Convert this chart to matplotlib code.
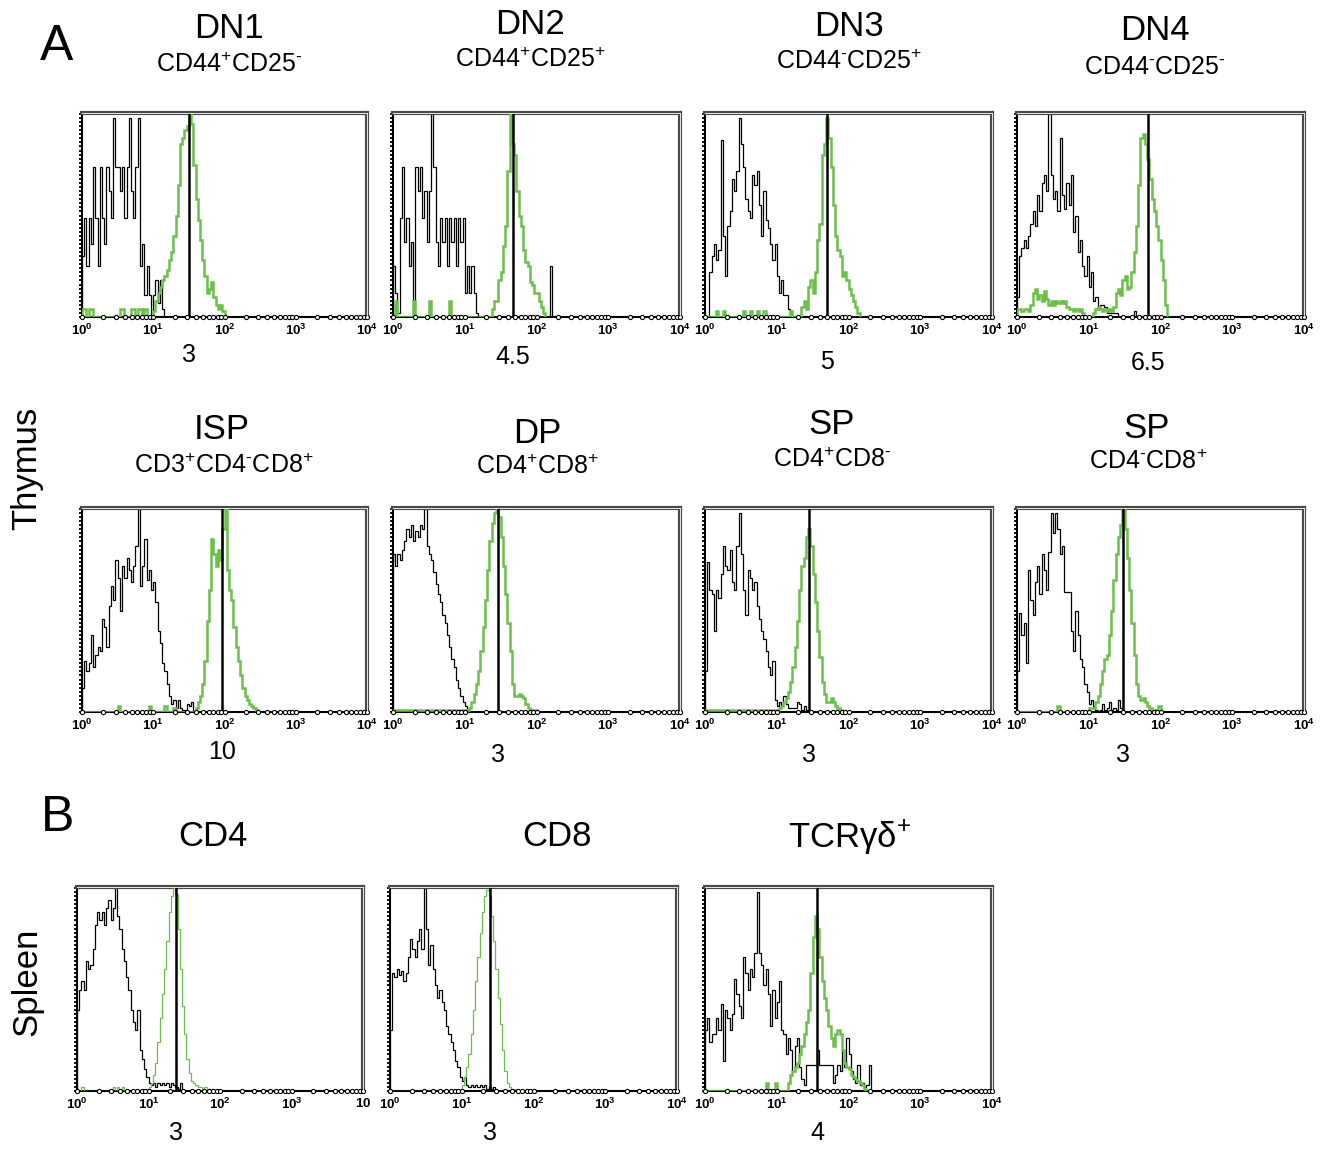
import numpy as np
import matplotlib
matplotlib.use("Agg")
import matplotlib.pyplot as plt
from matplotlib.ticker import NullLocator
from matplotlib.transforms import blended_transform_factory

plt.rcParams['font.family'] = ['Liberation Sans', 'DejaVu Sans']
plt.rcParams['mathtext.fontset'] = 'custom'
plt.rcParams['mathtext.rm'] = 'Liberation Sans'
plt.rcParams['mathtext.it'] = 'Liberation Sans:italic'
plt.rcParams['mathtext.bf'] = 'Liberation Sans:bold'

W, H = 1328, 1149
CH_PER_DEC = 32   # histogram channels per decade, channel 0 = 10^0

# ---- histogram counts (% of max), channel 0 upward ----
dn1_black = [30, 49, 25, 49, 36, 74, 49, 25, 74, 49, 36, 74, 62, 49, 98, 74, 74, 62, 74, 49,
             74, 98, 62, 49, 74, 98, 25, 36, 11, 25, 11, 0, 11, 18, 7, 18, 4]
dn1_green = [4, 4, 0, 4, 4, 0, 0, 0, 0, 0, 0, 0, 0, 0, 0, 0, 0, 4, 4, 0, 0, 0, 4, 4, 0, 4, 4, 0,
             4, 0, 0, 0,
             3, 8, 12, 15, 18, 20, 23, 28, 32, 40, 50, 65, 85, 88, 92, 94, 100, 95, 75, 58, 48, 38,
             28, 20, 12, 14, 17, 10, 6, 4, 6, 3]

dn2_black = [25, 12, 2, 49, 74, 37, 49, 25, 37, 8, 74, 62, 74, 49, 62, 37, 62, 100, 74, 37,
             25, 49, 37, 49, 25, 49, 37, 49, 25, 49, 37, 49, 12, 25, 12, 25, 12, 2] + [0] * 32 + [25]
dn2_green = [0, 8, 0, 0, 0, 0, 0, 0, 0, 8, 0, 0, 0, 0, 0, 0, 8, 0, 0, 0, 0, 0, 0, 0, 0, 8,
             0, 0, 0, 0, 0, 0, 0, 0, 0, 0, 0, 0, 0, 0, 0, 0, 0, 0,
             4, 8, 8, 18, 22, 35, 45, 72, 100, 85, 80, 62, 50, 45, 33, 27, 25, 17, 16, 12, 12, 8, 5, 2]

dn3_black = [0, 0, 22, 30, 36, 28, 33, 87, 40, 20, 45, 52, 68, 62, 72, 98, 85, 74, 58, 52,
             49, 70, 65, 72, 55, 40, 62, 48, 44, 36, 28, 36, 20, 12, 18, 11, 11, 4]
dn3_green = [0, 0, 0, 0, 0, 3, 0, 0, 3, 0, 0, 0, 0, 0, 0, 0, 0, 3, 0, 0, 3, 0, 0, 3, 0, 0, 3,
             0, 0, 0, 0, 0, 0, 0, 0, 0, 0, 0, 3, 0, 0, 0, 0,
             5, 8, 4, 15, 18, 12, 22, 38, 46, 80, 85, 98, 88, 74, 55, 40, 33, 30, 20, 22, 18, 14,
             11, 8, 5, 2]

dn4_black = [10, 30, 34, 38, 34, 40, 46, 52, 45, 60, 52, 66, 70, 62, 100, 70, 58, 62, 52, 88,
             60, 53, 66, 55, 70, 42, 50, 32, 38, 25, 20, 30, 15, 22, 8, 10, 5, 6, 6, 5,
             2, 2, 2, 2, 2, 0, 0, 0, 0, 0, 0, 0, 3]
dn4_green = [4, 4, 3, 4, 4, 3, 6, 12, 14, 9, 11, 8, 13, 9, 6, 8, 6, 8, 7, 8, 7, 8, 5, 4, 4,
             3, 4, 3, 4, 2, 0, 0, 0, 0, 2, 4, 5, 4, 3, 4, 3, 4, 3, 5, 12, 14, 11, 18, 20, 14,
             15, 22, 32, 45, 65, 88, 90, 85, 78, 68, 58, 52, 45, 38, 28, 18, 6]

isp_black = [12, 25, 20, 24, 38, 22, 28, 32, 30, 46, 42, 32, 52, 62, 55, 75, 66, 50, 72, 66,
             76, 70, 64, 72, 82, 100, 62, 72, 85, 65, 70, 60, 64, 54, 40, 34, 24, 20, 14, 8,
             4, 6, 2, 6, 2, 1, 1, 4, 3, 5]
isp_green = [0] * 16 + [3] + [0] * 13 + [3] + [0] * 6 + [3] + [0] * 3 + [2] + [0] * 9 + \
            [2, 5, 8, 14, 25, 45, 60, 85, 78, 72, 80, 75, 90, 100, 70, 60, 55, 42, 32, 25, 18,
             12, 8, 6, 4, 3, 2, 1]

dp_black = [78, 72, 78, 75, 80, 84, 90, 86, 92, 84, 89, 86, 92, 90, 100, 82, 78, 75, 69, 63,
            58, 54, 48, 44, 38, 32, 26, 22, 16, 12, 8, 5, 3, 1]
dp_green = [1] * 34 + [2, 5, 9, 14, 20, 30, 42, 55, 70, 84, 93, 98, 100, 96, 86, 72, 58, 44,
                       30, 14, 8, 8, 9, 8, 7, 4, 2, 1, 1, 1]

sp4_black = [20, 74, 60, 58, 40, 60, 56, 68, 82, 72, 70, 80, 64, 60, 82, 98, 78, 60, 48, 70,
             66, 60, 64, 52, 46, 40, 36, 30, 22, 18, 25, 6, 3, 5, 3, 8, 4, 2, 2, 2, 2, 5, 4, 1, 3, 1]
sp4_green = [1] * 33 + [2, 3, 5, 7, 10, 15, 22, 32, 45, 60, 72, 76, 86, 90, 82, 68, 54, 40, 27,
                        15, 9, 5, 5, 7, 5, 3, 2, 1]

sp8_black = [20, 49, 38, 44, 24, 70, 55, 48, 64, 72, 58, 78, 70, 60, 79, 98, 88, 98, 90, 78,
             82, 59, 59, 59, 40, 30, 50, 38, 26, 22, 14, 10, 4, 6, 3, 1, 0, 1, 4, 1, 2, 5, 1,
             2, 1, 6, 2]
sp8_green = [0] * 18 + [3] + [0] * 13 + [2, 2, 2, 5, 8, 14, 20, 26, 28, 38, 50, 65, 78, 86, 92,
                                          100, 90, 76, 60, 44, 28, 14, 8, 6, 7, 5, 3, 2, 1, 1, 1, 3]

cd4_black = [40, 50, 54, 50, 64, 60, 62, 70, 82, 88, 84, 88, 82, 90, 94, 84, 90, 100, 86, 80,
             70, 64, 56, 50, 40, 34, 30, 40, 20, 16, 11, 7, 4, 3, 4, 2, 4, 3, 4, 3, 4, 2, 4, 3,
             2, 1, 4]
cd4_green = [0, 0, 2] + [0] * 13 + [2, 0, 2, 0, 2] + [0] * 10 + \
            [1, 2, 4, 8, 14, 24, 36, 48, 60, 74, 88, 96, 100, 97, 80, 60, 42, 28, 16, 9, 5, 4, 3,
             2, 2, 1, 2, 1, 1]

cd8_black = [30, 58, 56, 60, 57, 59, 54, 58, 66, 75, 70, 66, 74, 80, 70, 100, 80, 62, 72, 60,
             52, 46, 50, 44, 40, 32, 28, 24, 20, 15, 12, 7, 5, 7, 3, 2, 3, 2, 3, 2, 3, 2, 3, 1,
             2, 1, 2]
cd8_green = [0] * 31 + [1, 3, 7, 12, 18, 28, 40, 54, 66, 78, 88, 96, 99, 96, 86, 74, 60, 46,
                        33, 20, 10, 4, 2, 1, 1]

tcr_black = [30, 36, 24, 28, 28, 36, 30, 43, 15, 40, 36, 30, 38, 55, 48, 42, 36, 66, 58, 50,
             60, 56, 68, 98, 68, 62, 52, 60, 48, 32, 50, 36, 44, 54, 30, 28, 18, 26, 20, 10,
             22, 26, 12, 6, 3, 13, 13, 13, 13, 13, 20, 13, 13, 13, 13, 13, 13, 4, 8, 13, 10,
             20, 12, 26, 18, 10, 6, 4, 13, 3, 4, 2, 3, 13]
tcr_green = [0] * 27 + [4, 0, 0, 0, 4, 0, 0, 0, 0, 0] + \
            [4, 8, 10, 12, 14, 18, 22, 28, 34, 40, 58, 76, 86, 80, 66, 54, 46, 40, 32, 26, 22,
             28, 30, 28, 20, 14, 12, 11, 8, 7, 6, 5, 4, 3, 1]

# marker line (fluorescence) and the number printed under it
markers = [31.3, 46.3, 50.9, 66.1, 91.2, 29.2, 28.2, 30.2, 24.5, 24.5, 36.8]
values = ["3", "4.5", "5", "6.5", "10", "3", "3", "3", "3", "3", "4"]
titles = ["DN1", "DN2", "DN3", "DN4", "ISP", "DP", "SP", "SP", "CD4", "CD8",
          "TCR\u03b3\u03b4$^{+}$"]
P, M = "$^{+}$", "$^{\u2010}$"
subtitles = ["CD44" + P + "CD25" + M, "CD44" + P + "CD25" + P, "CD44" + M + "CD25" + P,
             "CD44" + M + "CD25" + M, "CD3" + P + "CD4" + M + "CD8" + P, "CD4" + P + "CD8" + P,
             "CD4" + P + "CD8" + M, "CD4" + M + "CD8" + P, None, None, None]

blacks = [dn1_black, dn2_black, dn3_black, dn4_black, isp_black, dp_black, sp4_black,
          sp8_black, cd4_black, cd8_black, tcr_black]
greens = [dn1_green, dn2_green, dn3_green, dn4_green, isp_green, dp_green, sp4_green,
          sp8_green, cd4_green, cd8_green, tcr_green]

# ---- layout in pixels: (left, top, right, bottom) ----
boxes = [(82, 113, 367, 317), (393, 113, 680, 317), (705, 113, 992, 317), (1017, 113, 1304, 317),
         (82, 508, 367, 712), (393, 508, 680, 712), (705, 508, 992, 712), (1017, 508, 1304, 712),
         (77, 887, 363, 1091), (390, 887, 677, 1091), (705, 887, 992, 1091)]
title_xy = [(229, 28), (530, 24), (849, 26), (1155, 30), (222, 430), (537, 433), (832, 425),
            (1147, 428), (213, 836), (557, 836), (850, 838)]
sub_xy = [(229, 65), (530, 60), (849, 62), (1155, 67), (224, 466), (537, 467), (832, 460),
          (1148, 462), None, None, None]
value_y = [355, 357, 362, 363, 752, 755, 755, 755, 1133, 1133, 1133]
green_lw = [1.8] * 8 + [0.9, 0.9, 1.8]
GREEN = '#6cbf4a'

fig = plt.figure(figsize=(W / 100, H / 100), dpi=100)


def fx(x):
    return x / W


def fy(y):
    return 1 - y / H


for i in range(11):
    l, t, r, b = boxes[i]
    ax = fig.add_axes([fx(l), fy(b), (r - l) / W, (b - t) / H])
    ax.set_xscale('log')

    black = np.array(blacks[i], dtype=float)
    green = np.array(greens[i], dtype=float)
    eb = 10 ** (np.arange(len(black) + 1) / CH_PER_DEC)
    eg = 10 ** (np.arange(len(green) + 1) / CH_PER_DEC)
    ax.stairs(black, eb, baseline=0, color='black', lw=0.9, zorder=2)
    ax.stairs(green, eg, baseline=0, color=GREEN, lw=green_lw[i], zorder=3)
    ax.axvline(markers[i], color='black', lw=1.8, zorder=4)

    ax.set_xlim(1, 1e4)
    ax.set_ylim(0, 100.5)

    # decade labels
    labels = [r'$\mathbf{10^{%d}}$' % k for k in range(5)]
    if i == 8:
        labels[-1] = r'$\mathbf{10}$'
    ax.set_xticks([1, 10, 100, 1000, 10000])
    ax.set_xticklabels(labels, fontsize=9.5)
    ax.xaxis.set_minor_locator(NullLocator())
    ax.tick_params(axis='x', length=0, pad=4)

    # beaded left axis
    ax.set_yticks(np.arange(0, 101, 2))
    ax.set_yticklabels([])
    ax.tick_params(axis='y', direction='out', length=2.5, width=1.3)

    # little circles on the bottom axis at log positions
    pos = [m * 10 ** d for d in range(4) for m in range(1, 10)] + [1e4]
    trans = blended_transform_factory(ax.transData, ax.transAxes)
    ax.plot(pos, np.zeros(len(pos)), 'o', ms=3, mfc='white', mec='black', mew=0.8,
            transform=trans, clip_on=False, zorder=6)

    for s in ['left', 'bottom']:
        ax.spines[s].set_linewidth(1.5)
    for s in ['top', 'right']:
        ax.spines[s].set_linewidth(3.0)
        ax.spines[s].set_color('#4a4a4a')
    # double-line look of the top and right frame
    ax.plot([0, 1], [1, 1], transform=ax.transAxes, color='white', lw=0.6,
            clip_on=False, zorder=7)
    ax.plot([1, 1], [0, 1], transform=ax.transAxes, color='white', lw=0.6,
            clip_on=False, zorder=7)

    # number under the marker line
    vt = blended_transform_factory(ax.transData, fig.transFigure)
    ax.text(markers[i], fy(value_y[i]), values[i], transform=vt, ha='center', va='center',
            fontsize=18)

    fig.text(fx(title_xy[i][0]), fy(title_xy[i][1]), titles[i], ha='center', va='center',
             fontsize=25)
    if subtitles[i] is not None:
        fig.text(fx(sub_xy[i][0]), fy(sub_xy[i][1]), subtitles[i], ha='center', va='center',
                 fontsize=18)

fig.text(fx(57), fy(47), "A", ha='center', va='center', fontsize=36)
fig.text(fx(58), fy(818), "B", ha='center', va='center', fontsize=36)
fig.text(fx(27), fy(468), "Thymus", ha='center', va='center', fontsize=25, rotation=90)
fig.text(fx(27), fy(982), "Spleen", ha='center', va='center', fontsize=25, rotation=90)

fig.savefig("out.png", dpi=100, facecolor='white')
